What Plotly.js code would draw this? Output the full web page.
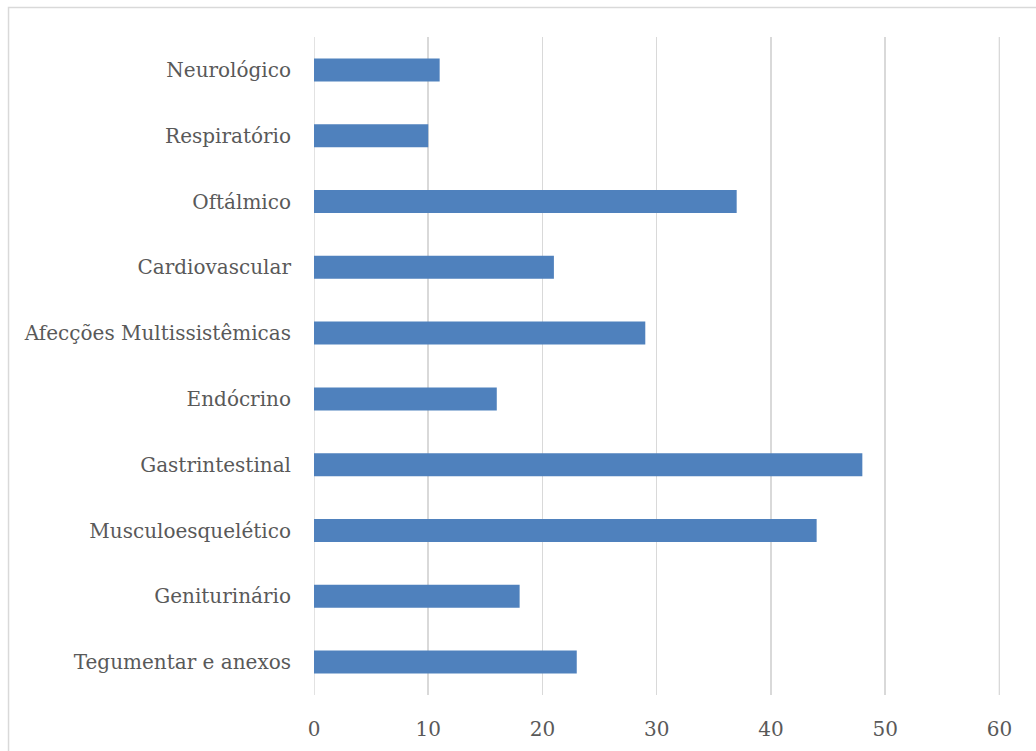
<!DOCTYPE html>
<html>
<head>
<meta charset="utf-8">
<script src="https://cdn.plot.ly/plotly-3.0.1.min.js"></script>
<style>
  html, body { margin: 0; padding: 0; background: #ffffff; }
  #chart { width: 1036px; height: 751px; }
</style>
</head>
<body>
<div id="chart"></div>
<script>
// Systems affected (listed bottom to top) and number of cases
const categories = [
  'Tegumentar e anexos',
  'Geniturinário',
  'Musculoesquelético',
  'Gastrintestinal',
  'Endócrino',
  'Afecções Multissistêmicas',
  'Cardiovascular',
  'Oftálmico',
  'Respiratório',
  'Neurológico'
];
const casos = [23, 18, 44, 48, 16, 29, 21, 37, 10, 11];
const xTicks = [0, 10, 20, 30, 40, 50, 60];

const textColor = '#595959';
const gridColor = '#d9d9d9';
const fontFamily = 'DejaVu Serif, Liberation Serif, serif';

const trace = {
  type: 'bar',
  orientation: 'h',
  y: categories,
  x: casos,
  marker: { color: '#4f81bd', line: { width: 0 } },
  hoverinfo: 'x+y'
};

// gridlines at both ends of the value axis
const edgeLines = [xTicks[0], xTicks[xTicks.length - 1]].map(v => ({
  type: 'line',
  xref: 'x', yref: 'paper',
  x0: v, x1: v, y0: 0, y1: 1,
  line: { color: gridColor, width: 1.5 },
  layer: 'below'
}));

const layout = {
  width: 1036,
  height: 751,
  margin: { l: 314, r: 36, t: 37, b: 56, pad: 0 },
  paper_bgcolor: '#ffffff',
  plot_bgcolor: '#ffffff',
  showlegend: false,
  bargap: 0.65,
  font: { family: fontFamily, size: 20, color: textColor },
  xaxis: {
    range: [0, 60.05],
    tickvals: xTicks,
    ticktext: xTicks.map(String),
    showgrid: true,
    gridcolor: gridColor,
    gridwidth: 1.5,
    zeroline: false,
    showline: false,
    ticks: '',
    ticklabelstandoff: 20,
    tickfont: { family: fontFamily, size: 20, color: textColor },
    fixedrange: true
  },
  yaxis: {
    type: 'category',
    showgrid: false,
    zeroline: false,
    showline: false,
    ticks: '',
    ticklabelstandoff: 22,
    tickfont: { family: fontFamily, size: 20, color: textColor },
    fixedrange: true
  },
  shapes: [
    {
      // light frame around the whole chart
      type: 'rect',
      xref: 'paper', yref: 'paper',
      x0: -0.4453, x1: 1.06,
      y0: -0.1, y1: 1.0448,
      line: { color: gridColor, width: 1.5 },
      fillcolor: 'rgba(0,0,0,0)',
      layer: 'below'
    }
  ].concat(edgeLines)
};

Plotly.newPlot('chart', [trace], layout, { displayModeBar: false, staticPlot: true });
</script>
</body>
</html>
